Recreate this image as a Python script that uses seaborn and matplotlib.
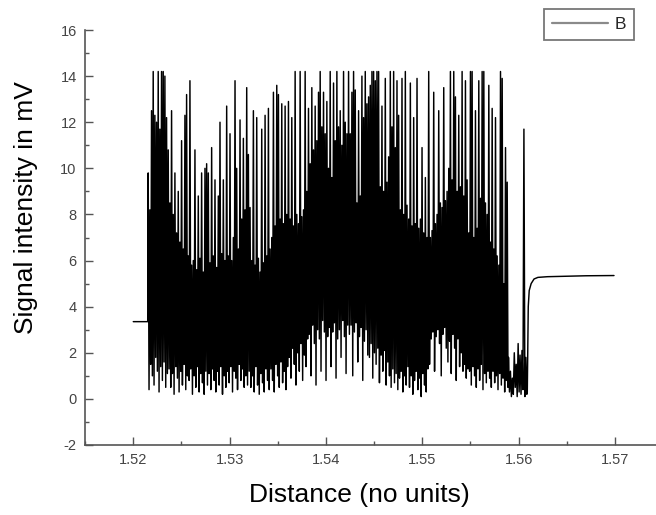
import numpy as np
import pandas as pd
import matplotlib
matplotlib.use("Agg")
import matplotlib.pyplot as plt
from matplotlib.ticker import MultipleLocator, FixedLocator
import seaborn as sns

sns.set_theme(style="white")
plt.rcParams["font.family"] = ["Liberation Sans", "DejaVu Sans"]
plt.rcParams["axes.unicode_minus"] = False

# ---------------- data ----------------
# flat level before the signal starts
baseline_x = [1.5200, 1.5215]
baseline_mv = [3.35, 3.35]

# main noisy section: alternating local maxima / minima (mV)
noise_start, noise_end = 1.52155, 1.55890
peak_mv = [
    9.8, 8.2, 12.5, 14.2, 12.3, 12.0, 14.2, 11.7, 14.2, 14.2, 14.0, 12.2,
    10.8, 8.5, 12.5, 8.0, 9.8, 7.2, 9.0, 6.8, 11.2, 6.5, 12.3, 13.2,
    6.2, 13.8, 5.8, 6.0, 10.8, 5.6, 8.8, 6.1, 9.8, 5.5, 10.0, 10.2,
    9.8, 5.9, 10.9, 6.2, 9.5, 5.7, 8.8, 12.0, 6.3, 9.5, 6.0, 12.7,
    6.2, 11.5, 6.0, 7.0, 13.8, 10.0, 6.5, 12.1, 7.8, 11.3, 8.2, 13.5,
    10.6, 8.3, 6.0, 12.5, 5.8, 12.2, 6.1, 5.5, 11.7, 5.9, 12.3, 6.2,
    12.6, 6.5, 7.0, 13.3, 7.5, 13.6, 13.2, 7.8, 12.8, 7.6, 12.7, 8.0,
    12.9, 7.8, 12.2, 7.5, 14.2, 8.0, 7.6, 14.2, 7.9, 8.2, 14.2, 9.0,
    12.6, 10.2, 13.5, 10.8, 12.7, 11.2, 13.3, 14.2, 11.8, 13.3, 11.5, 12.9,
    10.0, 14.2, 9.6, 13.7, 11.2, 14.2, 11.8, 12.5, 11.0, 14.2, 12.0, 11.5,
    14.2, 11.5, 13.3, 14.2, 13.4, 8.5, 12.5, 8.8, 14.0, 12.2, 14.2, 12.8,
    13.1, 13.6, 14.2, 14.2, 13.8, 14.2, 14.2, 9.2, 12.7, 9.0, 13.9, 9.4,
    10.5, 14.2, 11.8, 14.2, 10.9, 13.8, 12.3, 8.2, 13.9, 8.0, 14.2, 8.4,
    7.8, 13.7, 7.5, 12.2, 7.6, 13.9, 7.4, 7.8, 10.9, 7.2, 9.6, 7.0,
    14.2, 7.0, 7.3, 13.3, 7.6, 8.0, 12.5, 8.5, 8.3, 13.5, 8.6, 9.0,
    10.0, 14.2, 9.5, 14.2, 13.1, 9.0, 12.3, 9.2, 14.2, 8.8, 13.8, 9.5,
    7.2, 14.2, 14.2, 7.0, 12.5, 7.4, 13.8, 8.7, 14.2, 14.2, 8.5, 8.0,
    13.6, 6.8, 12.6, 6.5, 12.2, 6.2, 5.8, 14.2, 13.9, 5.0, 10.9, 9.4,
]
trough_mv = [
    0.4, 1.5, 1.0, 0.6, 1.8, 1.2, 0.3, 1.4, 0.8, 1.6, 0.5, 1.1,
    1.3, 0.5, 1.1, 0.2, 1.4, 0.9, 0.3, 1.2, 0.6, 1.5, 0.4, 1.0,
    0.8, 1.3, 0.2, 1.0, 0.5, 1.4, 0.3, 1.1, 0.7, 0.2, 1.2, 0.6,
    1.1, 0.4, 1.3, 0.8, 0.3, 1.2, 0.6, 1.4, 0.2, 1.0, 0.5, 1.2,
    0.7, 1.4, 0.3, 1.2, 0.9, 0.4, 1.5, 0.8, 1.3, 0.5, 1.0, 0.6,
    1.2, 0.5, 1.0, 0.3, 1.4, 0.6, 0.2, 1.1, 0.7, 0.3, 1.3, 0.8,
    0.4, 1.3, 0.8, 0.3, 1.5, 1.0, 0.5, 1.6, 0.7, 1.2, 0.4, 1.4,
    1.8, 0.9, 2.2, 1.5, 0.6, 2.0, 1.2, 2.4, 0.8, 1.9, 1.4, 2.6,
    2.8, 1.0, 3.2, 2.4, 0.6, 3.0, 2.6, 1.2, 3.4, 2.9, 0.8, 2.7,
    3.1, 1.4, 2.9, 3.3, 0.9, 2.6, 3.0, 1.8, 3.4, 2.7, 1.1, 3.2,
    2.8, 3.2, 1.0, 2.9, 3.3, 1.6, 2.7, 3.1, 0.8, 2.5, 3.0, 1.9,
    1.8, 2.4, 0.9, 2.0, 1.5, 2.2, 0.7, 1.9, 1.2, 2.1, 0.6, 1.6,
    1.0, 0.5, 1.3, 0.7, 1.1, 0.4, 0.9, 1.2, 0.3, 1.0, 0.6, 1.4,
    0.5, 1.0, 0.2, 0.8, 1.2, 0.4, 0.9, 0.1, 1.1, 0.6, 0.3, 1.3,
    1.5, 2.6, 2.9, 1.2, 2.7, 3.0, 2.4, 1.0, 2.8, 3.1, 2.2, 1.6,
    2.5, 1.1, 2.8, 2.2, 0.8, 2.6, 1.4, 2.0, 1.2, 1.5, 0.9, 1.3,
    1.2, 0.6, 1.4, 1.0, 0.5, 1.3, 0.8, 1.5, 0.4, 1.1, 0.7, 1.2,
    0.9, 0.5, 1.2, 0.7, 1.0, 0.4, 1.1, 0.6, 0.9, 0.3, 0.8, 0.5,
]

# low dip just before the step (with one isolated spike)
dip_start, dip_end = 1.55895, 1.56085
dip_peak_mv = [1.8, 1.2, 0.9, 2.0, 1.5, 2.4, 1.9, 2.1, 11.7, 1.8]
dip_trough_mv = [0.3, 0.1, 0.2, 0.5, 0.1, 0.3, 0.2, 0.4, 0.1, 0.2]

# step up and final plateau
plateau_x = [1.5609, 1.56095, 1.5610, 1.5611, 1.5613, 1.5616, 1.5620,
             1.5630, 1.5650, 1.5670, 1.5699]
plateau_mv = [0.3, 2.0, 4.0, 4.7, 5.0, 5.2, 5.27, 5.3, 5.32, 5.34, 5.35]

x_ticks = [1.52, 1.53, 1.54, 1.55, 1.56, 1.57]
x_tick_labels = ["1.52", "1.53", "1.54", "1.55", "1.56", "1.57"]
y_ticks = [-2, 0, 2, 4, 6, 8, 10, 12, 14, 16]

# ---------------- assemble ----------------
noise_vals = np.column_stack([peak_mv, trough_mv]).ravel()
noise_x = np.linspace(noise_start, noise_end, len(noise_vals))
dip_vals = np.column_stack([dip_peak_mv, dip_trough_mv]).ravel()
dip_x = np.linspace(dip_start, dip_end, len(dip_vals))

x_all = np.concatenate([baseline_x, noise_x, dip_x, plateau_x])
y_all = np.concatenate([baseline_mv, noise_vals, dip_vals, plateau_mv])
df = pd.DataFrame({"distance": x_all, "mv": y_all, "series": "B"})

# ---------------- figure ----------------
W, H = 656, 515
fig = plt.figure(figsize=(W / 100, H / 100), dpi=100)
ax = fig.add_axes([85 / W, 70 / H, 571 / W, 415 / H])

sns.lineplot(data=df, x="distance", y="mv", estimator=None, sort=False,
             color="black", linewidth=1.05, label="B", ax=ax)

ax.set_xlim(1.51499, 1.57426)
ax.set_ylim(-2, 16)

for s in ["top", "right"]:
    ax.spines[s].set_visible(False)
for s in ["left", "bottom"]:
    ax.spines[s].set_color("#555555")
    ax.spines[s].set_linewidth(1.2)

ax.xaxis.set_major_locator(FixedLocator(x_ticks))
ax.set_xticklabels(x_tick_labels)
ax.xaxis.set_minor_locator(MultipleLocator(0.005))
ax.yaxis.set_major_locator(FixedLocator(y_ticks))
ax.yaxis.set_minor_locator(MultipleLocator(1))
ax.tick_params(which="major", direction="in", length=6, width=1,
               color="#555555", labelsize=10.5, labelcolor="#444444", pad=6,
               bottom=True, left=True)
ax.tick_params(which="minor", direction="in", length=3, width=1,
               color="#555555", bottom=True, left=True)

ax.set_xlabel("Distance (no units)", fontsize=19, color="black")
ax.set_ylabel("Signal intensity in mV", fontsize=19, color="black")
ax.xaxis.label.set_va("center")
ax.yaxis.label.set_va("center")
ax.xaxis.set_label_coords(0.4807, -0.1193)
ax.yaxis.set_label_coords(-0.1033, 0.571)

leg = ax.legend(loc="upper right", bbox_to_anchor=(634 / W, 1 - 9 / H),
                bbox_transform=fig.transFigure, borderaxespad=0,
                fontsize=12.5, frameon=True, fancybox=False, framealpha=1,
                handlelength=3.2, handletextpad=0.4, borderpad=0.45)
leg.get_frame().set_edgecolor("#777777")
leg.get_frame().set_linewidth(1.3)
for ln in leg.get_lines():
    ln.set_color("#8a8a8a")
    ln.set_linewidth(1.6)

fig.savefig("out.png", dpi=100)
